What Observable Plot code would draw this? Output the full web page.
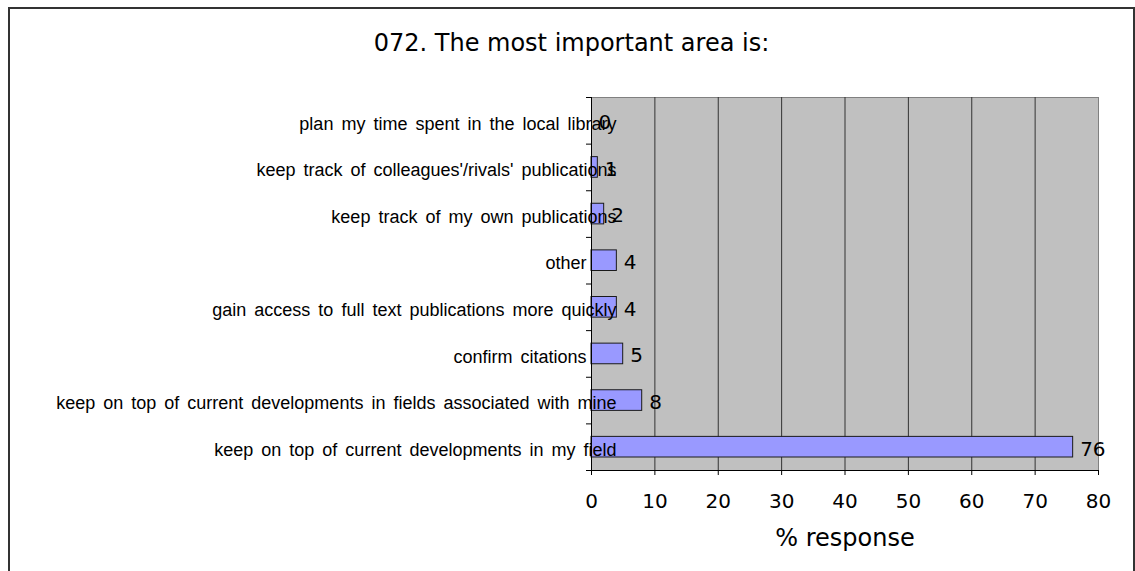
<!DOCTYPE html>
<html>
<head>
<meta charset="utf-8">
<script src="https://cdn.jsdelivr.net/npm/d3@7"></script>
<script src="https://cdn.jsdelivr.net/npm/@observablehq/plot@0.6"></script>
<style>
  html, body { margin: 0; padding: 0; background: #fff; overflow: hidden; }
  #card {
    position: absolute; left: 8px; top: 7px;
    width: 1127px; height: 620px; box-sizing: border-box;
    border: 2px solid #333; background: #fff;
  }
  #title {
    font-family: "DejaVu Sans", Verdana, sans-serif;
    font-size: 24px; line-height: 27px; color: #000;
    text-align: center; padding-top: 21px; height: 49px;
  }
</style>
</head>
<body>
<div id="card">
  <div id="title">072. The most important area is:</div>
  <div id="chart"></div>
</div>
<script>
const categories = [
  "plan my time spent in the local library",
  "keep track of colleagues'/rivals' publications",
  "keep track of my own publications",
  "other",
  "gain access to full text publications more quickly",
  "confirm citations",
  "keep on top of current developments in fields associated with mine",
  "keep on top of current developments in my field"
];
const values = [0, 1, 2, 4, 4, 5, 8, 76];
const xTicks = [0, 10, 20, 30, 40, 50, 60, 70, 80];
const xLabel = "% response";

const data = categories.map((c, i) => ({category: c, value: values[i], index: i}));
const n = categories.length;
const gridValues = xTicks.slice(1, -1);
const longLabels = data.filter(d => d.category.length > 20);
const shortLabels = data.filter(d => d.category.length <= 20);

const labelStyle = {
  x: 0, y: d => d.index + 0.5, text: "category",
  textAnchor: "end", fontFamily: "Liberation Sans, Arial, sans-serif",
  fontSize: 18, dy: 3, fill: "#000"
};

const chart = Plot.plot({
  width: 1123, height: 500,
  marginLeft: 581, marginRight: 35, marginTop: 18, marginBottom: 109,
  x: {domain: [0, 80]},
  y: {domain: [0, n], reverse: true},
  style: {background: "transparent", fontFamily: "DejaVu Sans, Verdana, sans-serif", color: "#000", overflow: "visible"},
  marks: [
    Plot.frame({fill: "#c0c0c0", stroke: "#808080"}),
    Plot.ruleX(gridValues, {stroke: "#333", strokeWidth: 1}),
    Plot.rect(data.filter(d => d.value > 0), {
      x1: 0, x2: "value", y1: "index", y2: d => d.index + 1,
      insetTop: 13, insetBottom: 13,
      fill: "#9999ff", stroke: "#1a1a1a", strokeWidth: 1
    }),
    Plot.ruleX([0], {stroke: "#000"}),
    Plot.ruleY([n], {stroke: "#000"}),
    Plot.axisY({ticks: d3.range(n + 1), tickSize: 5, tickFormat: () => "", label: null, stroke: "#000"}),
    Plot.axisX({ticks: xTicks, tickSize: 5, tickPadding: 18, fontSize: 20, label: null, stroke: "#000"}),
    Plot.text(longLabels, {...labelStyle, dx: 25}),
    Plot.text(shortLabels, {...labelStyle, dx: -5}),
    Plot.text(data, {
      x: "value", y: d => d.index + 0.5, text: d => String(d.value),
      textAnchor: "start", dx: 7, dy: 2, fontSize: 20, fill: "#000"
    }),
    Plot.text([xLabel], {text: d => d, frameAnchor: "bottom", lineAnchor: "middle", dy: 68, fontSize: 24, fill: "#000"})
  ]
});
// widen the gaps between words of the category labels, as in the reference
const catSet = new Set(categories);
d3.select(chart).selectAll("text").each(function() {
  if (catSet.has(this.textContent)) {
    this.setAttribute("word-spacing", "3");
    this.style.wordSpacing = "3px";
  }
});
document.getElementById("chart").appendChild(chart);
</script>
</body>
</html>
